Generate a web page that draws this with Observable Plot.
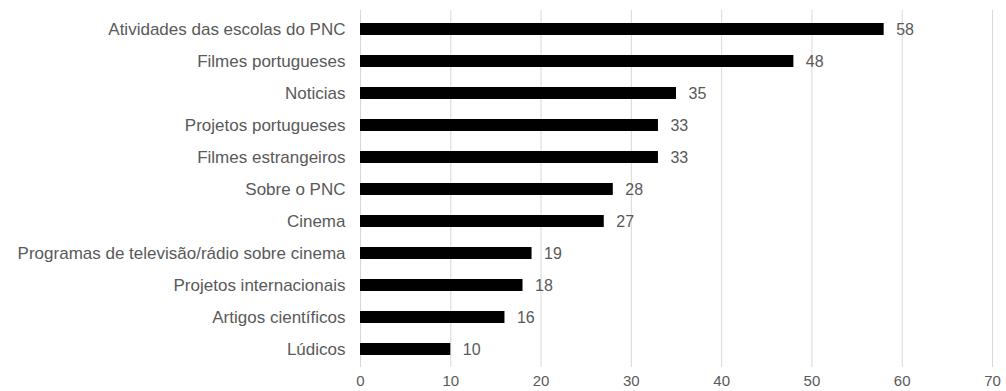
<!DOCTYPE html>
<html>
<head>
<meta charset="utf-8">
<script src="https://cdn.jsdelivr.net/npm/d3@7"></script>
<script src="https://cdn.jsdelivr.net/npm/@observablehq/plot@0.6"></script>
<style>
  html, body { margin: 0; padding: 0; background: #fff; }
</style>
</head>
<body>
<div id="chart"></div>
<script>
const categories = [
  "Atividades das escolas do PNC",
  "Filmes portugueses",
  "Noticias",
  "Projetos portugueses",
  "Filmes estrangeiros",
  "Sobre o PNC",
  "Cinema",
  "Programas de televisão/rádio sobre cinema",
  "Projetos internacionais",
  "Artigos científicos",
  "Lúdicos"
];
const values = [58, 48, 35, 33, 33, 28, 27, 19, 18, 16, 10];
const xTicks = [0, 10, 20, 30, 40, 50, 60, 70];

const data = categories.map((c, i) => ({category: c, value: values[i]}));

const chart = Plot.plot({
  width: 1006,
  height: 391,
  marginLeft: 360,
  marginRight: 14,
  marginTop: 10,
  marginBottom: 24,
  style: {
    fontFamily: "'Liberation Sans', Arial, Helvetica, sans-serif",
    fontSize: "16px",
    color: "#595959",
    background: "#fff"
  },
  x: {domain: [0, 70], ticks: xTicks},
  y: {domain: categories, paddingInner: 0.64, paddingOuter: 0.32},
  marks: [
    Plot.gridX(xTicks, {stroke: "#d9d9d9", strokeOpacity: 1, strokeWidth: 1}),
    Plot.axisX(xTicks, {tickSize: 0, tickPadding: 8, label: null, fill: "#595959", fontSize: 15}),
    Plot.axisY({tickSize: 0, tickPadding: 15, label: null, fill: "#595959", fontSize: 17}),
    Plot.barX(data, {x: "value", y: "category", fill: "#000"}),
    Plot.text(data, {x: "value", y: "category", text: d => String(d.value), dx: 12, textAnchor: "start", fill: "#595959", fontSize: 16})
  ]
});
document.getElementById("chart").appendChild(chart);
</script>
</body>
</html>
